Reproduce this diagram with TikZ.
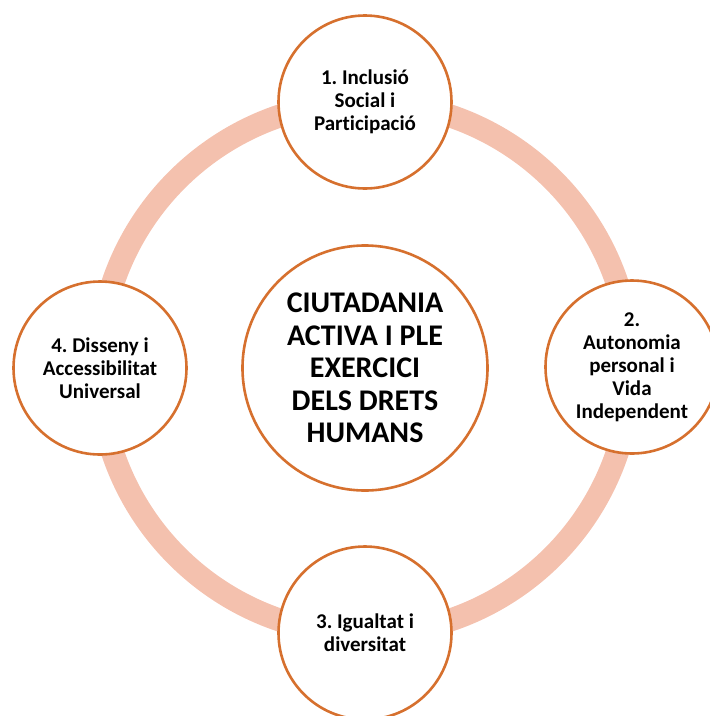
\documentclass[tikz,border=0pt]{standalone}
\usepackage{fontspec}
\setmainfont[Ligatures=NoCommon]{Carlito}
\frenchspacing
\definecolor{ringpink}{RGB}{244, 193, 174}
\definecolor{rimorange}{RGB}{214, 112, 46}
\tikzset{
    hubnode/.style={
        circle, draw=rimorange, line width=2.6pt, fill=white, inner sep=0pt,
        minimum size=245pt, align=center, font=\fontsize{30}{32.5}\selectfont\bfseries
    },
    areanode/.style={
        circle, draw=rimorange, line width=2.6pt, fill=white, inner sep=0pt,
        minimum size=173pt, align=center, font=\fontsize{21}{23}\selectfont\bfseries
    },
    ringline/.style={
        draw=ringpink, line width=23pt
    }
}

\begin{document}
\begin{tikzpicture}[x=1pt, y=-1pt]
        \useasboundingbox (0,0) rectangle (710,716);
        \clip (0,0) rectangle (710,716);

        % ======================================
        % ANELL DE FONS
        % ======================================
        \coordinate (hub) at (365,368);
        \draw[ringline] (hub) circle[radius=266];

        % ======================================
        % CERCLE CENTRAL
        % ======================================
        \node[hubnode] (ciutadania) at (hub) {CIUTADANIA\\ACTIVA I PLE\\EXERCICI\\DELS DRETS\\HUMANS};

        % ======================================
        % LES QUATRE ÀREES
        % ======================================
        \node[areanode] (inclusio) at (365,102) {1. Inclusió\\Social i\\Participació};
        \node[areanode] (autonomia) at (632,367) {2.\\Autonomia\\personal i\\Vida\\Independent};
        \node[areanode] (igualtat) at (365,633) {3. Igualtat i\\diversitat};
        \node[areanode] (disseny) at (100,368) {4. Disseny i\\Accessibilitat\\Universal};

    \end{tikzpicture}
\end{document}
